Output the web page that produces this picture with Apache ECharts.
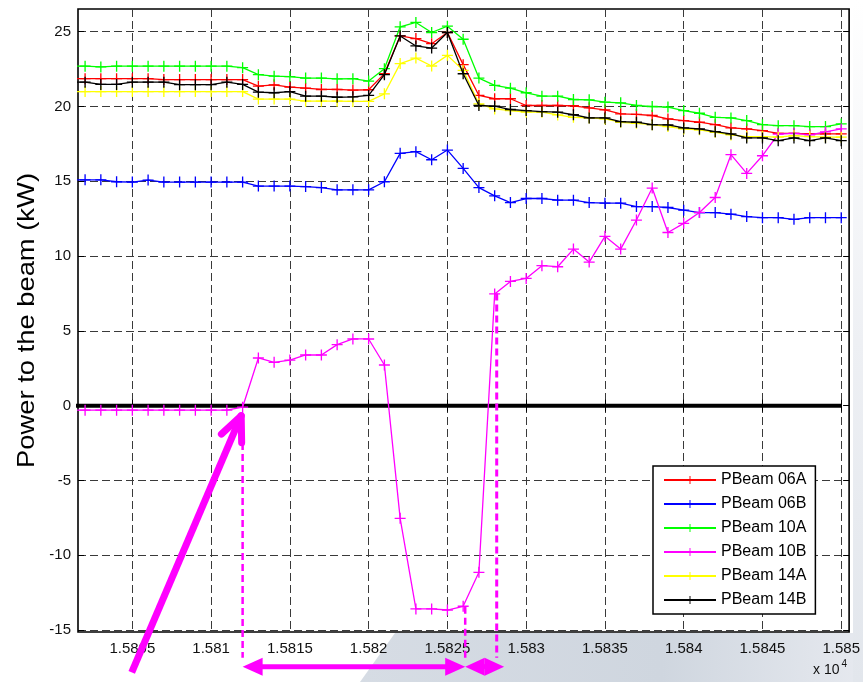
<!DOCTYPE html>
<html>
<head>
<meta charset="utf-8">
<script src="https://cdn.jsdelivr.net/npm/echarts@6/dist/echarts.min.js"></script>
<style>
  html, body { margin: 0; padding: 0; background: #ffffff; }
  #chart { width: 863px; height: 682px; }
</style>
</head>
<body>
<div id="chart"></div>
<script>
// Sample index (time stamp) for every measurement
const xs = [15801, 15802, 15803, 15804, 15805, 15806, 15807, 15808, 15809, 15810,
            15811, 15812, 15813, 15814, 15815, 15816, 15817, 15818, 15819, 15820,
            15821, 15822, 15823, 15824, 15825, 15826, 15827, 15828, 15829, 15830,
            15831, 15832, 15833, 15834, 15835, 15836, 15837, 15838, 15839, 15840,
            15841, 15842, 15843, 15844, 15845, 15846, 15847, 15848, 15849, 15850];

// Power delivered to the beam per cavity (kW)
const pb06A = [21.86, 21.86, 21.86, 21.86, 21.86, 21.86, 21.8, 21.8, 21.8, 21.8,
               21.8, 21.8, 21.36, 21.45, 21.3, 21.23, 21.14, 21.14, 21.1, 21.12,
               22.2, 24.72, 24.54, 24.2, 24.95, 22.8, 20.74, 20.52, 20.52, 20.07,
               20.07, 20.07, 20.05, 19.91, 19.78, 19.51, 19.47, 19.4, 19.17, 19.06,
               18.95, 18.79, 18.57, 18.5, 18.39, 18.21, 18.21, 18.17, 18.17, 18.17];
const pb06B = [15.1, 15.1, 15.1, 14.97, 14.95, 15.08, 14.95, 14.95, 14.95, 14.95,
               14.95, 14.95, 14.68, 14.68, 14.68, 14.65, 14.58, 14.43, 14.43, 14.43,
               14.97, 16.87, 16.98, 16.44, 17.09, 15.86, 14.58, 14.03, 13.58, 13.85,
               13.85, 13.74, 13.74, 13.58, 13.54, 13.54, 13.31, 13.31, 13.25, 13.07,
               12.91, 12.91, 12.8, 12.64, 12.57, 12.57, 12.46, 12.57, 12.57, 12.57];
const pb10A = [22.7, 22.7, 22.65, 22.7, 22.7, 22.7, 22.7, 22.7, 22.7, 22.7,
               22.7, 22.6, 22.13, 22.03, 22.0, 21.9, 21.9, 21.85, 21.86, 21.7,
               22.53, 25.33, 25.62, 24.95, 25.37, 24.5, 21.9, 21.41, 21.23, 20.92,
               20.69, 20.69, 20.47, 20.45, 20.29, 20.25, 20.07, 20.0, 19.96, 19.73,
               19.55, 19.28, 19.24, 19.06, 18.79, 18.72, 18.72, 18.66, 18.66, 18.84];
const pb10B = [-0.3, -0.3, -0.3, -0.3, -0.3, -0.3, -0.3, -0.3, -0.3, -0.3,
               -0.3, -0.1, 3.19, 2.9, 3.05, 3.39, 3.39, 4.08, 4.46, 4.46,
               2.72, -7.53, -13.59, -13.59, -13.66, -13.41, -11.14, 7.47, 8.31, 8.51,
               9.36, 9.29, 10.47, 9.6, 11.32, 10.47, 12.41, 14.55, 11.58, 12.19,
               12.92, 13.92, 16.78, 15.53, 16.71, 18.16, 18.2, 18.1, 18.3, 18.5];
const pb14A = [21.0, 21.0, 21.0, 21.0, 21.0, 21.0, 21.0, 21.0, 21.0, 21.0,
               21.0, 21.0, 20.5, 20.5, 20.5, 20.36, 20.36, 20.36, 20.34, 20.34,
               20.85, 22.87, 23.24, 22.71, 23.42, 22.42, 20.18, 19.84, 19.73, 19.62,
               19.62, 19.44, 19.28, 19.24, 19.17, 18.95, 18.88, 18.79, 18.66, 18.5,
               18.44, 18.28, 18.1, 17.99, 17.99, 17.95, 18.06, 17.99, 17.95, 17.95];
const pb14B = [21.63, 21.63, 21.48, 21.48, 21.63, 21.63, 21.63, 21.46, 21.46, 21.46,
               21.63, 21.48, 20.96, 20.92, 21.0, 20.69, 20.69, 20.62, 20.65, 20.74,
               22.13, 24.72, 24.05, 23.91, 24.95, 22.19, 20.07, 20.02, 19.8, 19.73,
               19.66, 19.62, 19.45, 19.24, 19.24, 18.99, 18.95, 18.79, 18.77, 18.57,
               18.5, 18.32, 18.17, 17.9, 17.9, 17.72, 17.9, 17.72, 17.9, 17.72];

const seriesNames = ['PBeam 06A', 'PBeam 06B', 'PBeam 10A', 'PBeam 10B', 'PBeam 14A', 'PBeam 14B'];
const seriesColors = ['#ff0000', '#0000ff', '#00ff00', '#ff00ff', '#ffff00', '#000000'];
const seriesValues = [pb06A, pb06B, pb10A, pb10B, pb14A, pb14B];

// Axis ticks
const xTicks = [15805, 15810, 15815, 15820, 15825, 15830, 15835, 15840, 15845, 15850];
const yTicks = [-15, -10, -5, 0, 5, 10, 15, 20, 25];

// Annotation anchors (data units): RF-off instant and the two transition edges
const eventX = [15812, 15826.13, 15828.13];

const plusPath = 'path://M4.4,0H5.6V4.4H10V5.6H5.6V10H4.4V5.6H0V4.4H4.4Z';
const fontFam = '"Liberation Sans", Arial, Helvetica, sans-serif';
const magenta = '#ff00ff';
const yLabel = 'Power to the beam (kW)';

const chart = echarts.init(document.getElementById('chart'), null, { renderer: 'canvas' });

const gridLine = { show: true, lineStyle: { color: '#3a3a3a', width: 1, type: [8, 4] } };

const series = seriesNames.map((name, i) => ({
  name: name,
  type: 'line',
  xAxisIndex: 0,
  yAxisIndex: 0,
  data: xs.map((x, k) => [x, seriesValues[i][k]]),
  symbol: plusPath,
  symbolSize: 11,
  showSymbol: true,
  lineStyle: { color: seriesColors[i], width: 1.3 },
  itemStyle: { color: seriesColors[i] },
  emphasis: { disabled: true },
  z: 3 + i
}));

// Thick zero reference line across the record
series.push({
  name: 'zero',
  type: 'line',
  data: [[xs[0], 0], [xs[xs.length - 1], 0]],
  symbol: 'none',
  lineStyle: { color: '#000000', width: 4 },
  z: 2,
  silent: true
});

chart.setOption({
  animation: false,
  backgroundColor: '#ffffff',
  grid: { left: 78, top: 9, width: 774, height: 623, show: true, borderColor: '#000000', borderWidth: 1.6, backgroundColor: 'transparent' },
  legend: {
    data: seriesNames,
    orient: 'vertical',
    left: 653,
    top: 466,
    padding: [6, 9, 6, 10],
    itemGap: 8,
    itemWidth: 52,
    itemHeight: 10,
    backgroundColor: '#ffffff',
    borderColor: '#000000',
    borderWidth: 1.5,
    textStyle: { fontFamily: fontFam, fontSize: 16, color: '#000000', padding: [0, 0, 0, 0] },
    selectedMode: false
  },
  xAxis: [{
    type: 'value',
    min: 15801.55,
    max: 15850.5,
    position: 'bottom',
    axisLine: { show: false },
    axisTick: { show: true, inside: true, length: 6, customValues: xTicks, lineStyle: { color: '#000' } },
    axisLabel: {
      customValues: xTicks,
      margin: 9,
      fontFamily: fontFam, fontSize: 15, color: '#111111',
      formatter: v => String(parseFloat((v / 1e4).toFixed(4)))
    },
    splitLine: gridLine
  }, {
    type: 'value',
    min: 15801.55,
    max: 15850.5,
    position: 'top',
    axisLine: { show: false },
    axisTick: { show: true, inside: true, length: 6, customValues: xTicks, lineStyle: { color: '#000' } },
    axisLabel: { show: false },
    splitLine: { show: false }
  }],
  yAxis: [{
    type: 'value',
    min: -15.13,
    max: 26.52,
    position: 'left',
    axisLine: { show: false },
    axisTick: { show: true, inside: true, length: 6, customValues: yTicks, lineStyle: { color: '#000' } },
    axisLabel: { customValues: yTicks, margin: 7, fontFamily: fontFam, fontSize: 15, color: '#111111' },
    splitLine: gridLine
  }, {
    type: 'value',
    min: -15.13,
    max: 26.52,
    position: 'right',
    axisLine: { show: false },
    axisTick: { show: true, inside: true, length: 6, customValues: yTicks, lineStyle: { color: '#000' } },
    axisLabel: { show: false },
    splitLine: { show: false }
  }],
  series: series
});

// Annotation overlay: pointer arrow, dashed event markers and interval arrows
function px(x, y) { return chart.convertToPixel({ gridIndex: 0 }, [x, y]); }

const pointerTip = px(15811.91, -0.67);
const pointerTail = px(15804.96, -17.83);
const markTop = [-2.5, -13.45, 7.5];
const markBottom = -16.85;
const spanY = -17.45;
const spanEnds = [[eventX[0], eventX[1]], [eventX[1], 15828.6]];

const graphics = [];

// Vertical axis title, centred on the plot height
const gridCenter = px(15801.55, (-15.13 + 26.52) / 2);
graphics.push({
  type: 'text', silent: true, z: 30,
  x: 27, y: gridCenter[1],
  rotation: Math.PI / 2,
  scaleX: 1.14,
  style: {
    text: yLabel,
    fontFamily: fontFam, fontSize: 24, fill: '#000000',
    align: 'center', verticalAlign: 'middle'
  }
});

// Slide background showing below and right of the axes
graphics.push({
  type: 'polygon', silent: true, z: -10,
  shape: { points: [[395, 633], [863, 633], [863, 682], [360, 682]] },
  style: { fill: new echarts.graphic.LinearGradient(0, 0, 1, 0, [
    { offset: 0, color: '#d6dce4' }, { offset: 0.6, color: '#cfd6df' }, { offset: 1, color: '#e6e9ef' }]) }
});
graphics.push({
  type: 'rect', silent: true, z: -10,
  shape: { x: 853, y: 0, width: 10, height: 682 },
  style: { fill: new echarts.graphic.LinearGradient(0, 0, 0, 1, [
    { offset: 0, color: '#ffffff' }, { offset: 0.5, color: '#eef0f4' }, { offset: 1, color: '#e2e6ec' }]) }
});

// Pointer arrow shaft and open head
graphics.push({
  type: 'line', silent: true, z: 50,
  shape: { x1: pointerTail[0], y1: pointerTail[1], x2: pointerTip[0], y2: pointerTip[1] },
  style: { stroke: magenta, lineWidth: 7, lineCap: 'butt' }
});
(function () {
  const ang = Math.atan2(pointerTail[1] - pointerTip[1], pointerTail[0] - pointerTip[0]);
  const len = 27, spread = 0.42;
  [ang + spread, ang - spread].forEach(a => {
    graphics.push({
      type: 'line', silent: true, z: 50,
      shape: { x1: pointerTip[0], y1: pointerTip[1], x2: pointerTip[0] + len * Math.cos(a), y2: pointerTip[1] + len * Math.sin(a) },
      style: { stroke: magenta, lineWidth: 7, lineCap: 'round' }
    });
  });
})();

// Dashed vertical event markers
eventX.forEach((ex, i) => {
  const p1 = px(ex, markTop[i]);
  const p2 = px(ex, markBottom);
  graphics.push({
    type: 'line', silent: true, z: 40,
    shape: { x1: p1[0], y1: p1[1], x2: p2[0], y2: p2[1] },
    style: { stroke: magenta, lineWidth: i === 2 ? 3 : 2.5, lineDash: [7, 4] }
  });
});

// Double-headed interval arrows
spanEnds.forEach(pair => {
  const a = px(pair[0], spanY), b = px(pair[1], spanY);
  const head = Math.min(20, (b[0] - a[0]) / 2), half = 9;
  graphics.push({
    type: 'line', silent: true, z: 45,
    shape: { x1: a[0] + head - 2, y1: a[1], x2: b[0] - head + 2, y2: b[1] },
    style: { stroke: magenta, lineWidth: 5 }
  });
  graphics.push({
    type: 'polygon', silent: true, z: 45,
    shape: { points: [[a[0], a[1]], [a[0] + head, a[1] - half], [a[0] + head, a[1] + half]] },
    style: { fill: magenta }
  });
  graphics.push({
    type: 'polygon', silent: true, z: 45,
    shape: { points: [[b[0], b[1]], [b[0] - head, b[1] - half], [b[0] - head, b[1] + half]] },
    style: { fill: magenta }
  });
});

// Axis exponent
graphics.push({
  type: 'text', silent: true, z: 30,
  style: {
    x: 813, y: 668,
    text: '{b|x 10}{s|4}',
    rich: {
      b: { fontFamily: fontFam, fontSize: 14, fill: '#111111', verticalAlign: 'bottom' },
      s: { fontFamily: fontFam, fontSize: 10, fill: '#111111', padding: [0, 0, 8, 2] }
    },
    verticalAlign: 'middle'
  }
});

chart.setOption({ graphic: graphics });
</script>
</body>
</html>
